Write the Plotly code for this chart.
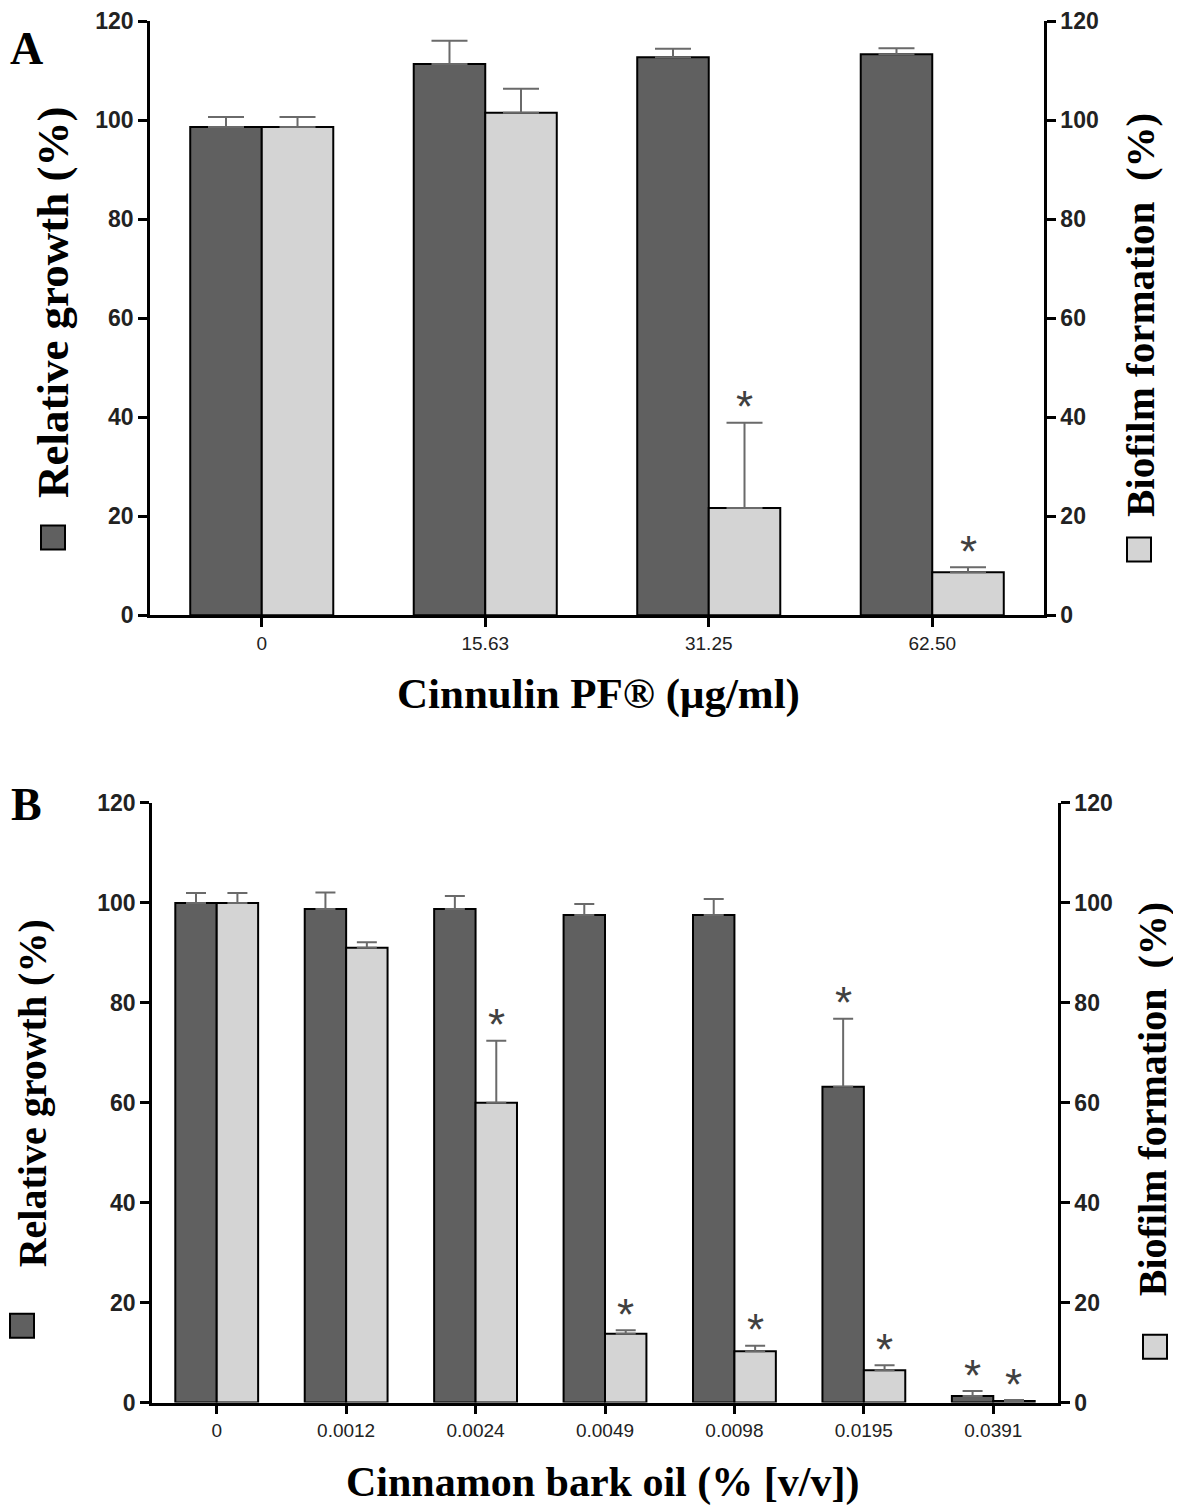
import plotly.graph_objects as go

# ---------------- data ----------------
# Panel A : Cinnulin PF (ug/ml)
cats_A = ["0", "15.63", "31.25", "62.50"]
growth_A = [98.6, 111.3, 112.7, 113.3]
growth_A_err = [2.0, 4.7, 1.7, 1.2]
biofilm_A = [98.6, 101.5, 21.7, 8.7]
biofilm_A_err = [2.0, 4.8, 17.2, 1.0]
sig_growth_A = [False, False, False, False]
sig_biofilm_A = [False, False, True, True]

# Panel B : Cinnamon bark oil (% v/v)
cats_B = ["0", "0.0012", "0.0024", "0.0049", "0.0098", "0.0195", "0.0391"]
growth_B = [100.0, 98.8, 98.8, 97.6, 97.6, 63.2, 1.3]
growth_B_err = [2.0, 3.3, 2.6, 2.2, 3.2, 13.6, 1.0]
biofilm_B = [100.0, 91.0, 60.0, 13.8, 10.3, 6.5, 0.3]
biofilm_B_err = [2.0, 1.1, 12.4, 0.7, 1.1, 1.0, 0.2]
sig_growth_B = [False, False, False, False, False, True, True]
sig_biofilm_B = [False, False, True, True, True, True, True]

y_ticks = [0, 20, 40, 60, 80, 100, 120]

# ---------------- style ----------------
W, H = 1181, 1512
DARK = "#606060"
LIGHT = "#d4d4d4"
ERR = "#6a6a6a"
BW = 0.32  # bar width in category units

# convert target picture pixels to paper fractions (compensating page offset)
def fx(x):
    return (x - 8) / W

def fy(y):
    v = 1 - ((y - 20.3) / 0.985) / H
    return min(max(v, 0.0), 1.0)

fig = go.Figure()

def add_panel(cats, g, ge, b, be, sg, sb, xa, ya_left, ya_right, capw):
    idx = list(range(len(cats)))
    fig.add_trace(go.Bar(
        x=idx, y=g, width=BW, offset=-BW, xaxis=xa, yaxis=ya_left,
        marker=dict(color=DARK, line=dict(color="black", width=2)),
        error_y=dict(type="data", array=ge, arrayminus=[0] * len(ge), symmetric=False,
                     color=ERR, thickness=2, width=capw),
        name="Relative growth", showlegend=False))
    fig.add_trace(go.Bar(
        x=idx, y=b, width=BW, offset=0, xaxis=xa, yaxis=ya_right,
        marker=dict(color=LIGHT, line=dict(color="black", width=2)),
        error_y=dict(type="data", array=be, arrayminus=[0] * len(be), symmetric=False,
                     color=ERR, thickness=2, width=capw),
        name="Biofilm formation", showlegend=False))
    # significance asterisks above the error bars
    for i in idx:
        marks = []
        if sg[i]:
            marks.append((i - BW / 2, g[i] + ge[i]))
        if sb[i]:
            marks.append((i + BW / 2, b[i] + be[i]))
        for mx, my in marks:
            fig.add_annotation(x=mx, y=my, xref=xa, yref=ya_left, text="*",
                               showarrow=False, xanchor="center", yanchor="middle",
                               yshift=16,
                               font=dict(family="Liberation Sans", size=44, color="#404040"))

add_panel(cats_A, growth_A, growth_A_err, biofilm_A, biofilm_A_err,
          sig_growth_A, sig_biofilm_A, "x", "y", "y2", 18)
add_panel(cats_B, growth_B, growth_B_err, biofilm_B, biofilm_B_err,
          sig_growth_B, sig_biofilm_B, "x2", "y3", "y4", 10)

ytick_font = dict(family="Liberation Sans", size=23, color="#222222", weight="bold")
xtick_font = dict(family="Liberation Sans", size=19, color="#222222")

def yaxis_cfg(domain, anchor, side, overlaying=None):
    d = dict(domain=domain, anchor=anchor, side=side, range=[0, 120],
             tickvals=y_ticks, ticks="outside", ticklen=9, tickwidth=2.5,
             tickcolor="black", showline=True, linecolor="black", linewidth=2.5,
             showgrid=False, zeroline=False, tickfont=ytick_font, fixedrange=True)
    if overlaying:
        d["overlaying"] = overlaying
    return d

def xaxis_cfg(domain, anchor, cats):
    return dict(domain=domain, anchor=anchor, range=[-0.5, len(cats) - 0.5],
                tickvals=list(range(len(cats))), ticktext=cats, ticks="outside",
                ticklen=9, tickwidth=2.5, tickcolor="black", showline=True,
                linecolor="black", linewidth=2.5, showgrid=False, zeroline=False,
                tickfont=xtick_font, fixedrange=True)

xdom_A = [fx(150), fx(1044)]
ydom_A = [fy(616), fy(20)]
xdom_B = [fx(152), fx(1058)]
ydom_B = [fy(1405), fy(804)]

fig.update_layout(
    width=W, height=H, margin=dict(l=0, r=0, t=0, b=0),
    plot_bgcolor="white", paper_bgcolor="white", barmode="overlay",
    xaxis=xaxis_cfg(xdom_A, "y", cats_A),
    yaxis=yaxis_cfg(ydom_A, "x", "left"),
    yaxis2=yaxis_cfg(ydom_A, "x", "right", overlaying="y"),
    xaxis2=xaxis_cfg(xdom_B, "y3", cats_B),
    yaxis3=yaxis_cfg(ydom_B, "x2", "left"),
    yaxis4=yaxis_cfg(ydom_B, "x2", "right", overlaying="y3"),
)

serif_bold = dict(family="Liberation Serif", color="black", weight="bold")

def ann(text, x, y, size, angle=0):
    fig.add_annotation(text=text, x=fx(x), y=fy(y), xref="paper", yref="paper",
                       showarrow=False, textangle=angle, xanchor="center", yanchor="middle",
                       font=dict(size=size, **serif_bold))

# panel letters
ann("A", 27, 48, 46)
ann("B", 27, 806, 46)
# x-axis titles
ann("Cinnulin PF® (μg/ml)", 598, 695, 43)
ann("Cinnamon bark oil (% [v/v])", 603, 1485, 42)
# y-axis titles
ann("Relative growth (%)", 53, 302, 45, -90)
ann("Biofilm formation  (%)", 1140, 315, 41, -90)
ann("Relative growth (%)", 32, 1095, 40, -90)
ann("Biofilm formation  (%)", 1152, 1101, 40, -90)

# legend swatches beside the y-axis titles
def swatch(cx, cy, size, color):
    fig.add_shape(type="rect", xref="paper", yref="paper",
                  x0=fx(cx - size / 2), x1=fx(cx + size / 2),
                  y0=fy(cy + size / 2), y1=fy(cy - size / 2),
                  fillcolor=color, line=dict(color="black", width=2))

swatch(53, 538, 24, DARK)
swatch(1139, 550, 24, LIGHT)
swatch(22, 1328, 24, DARK)
swatch(1155, 1349, 24, LIGHT)

fig.write_html("out.html", config={"displayModeBar": False})
